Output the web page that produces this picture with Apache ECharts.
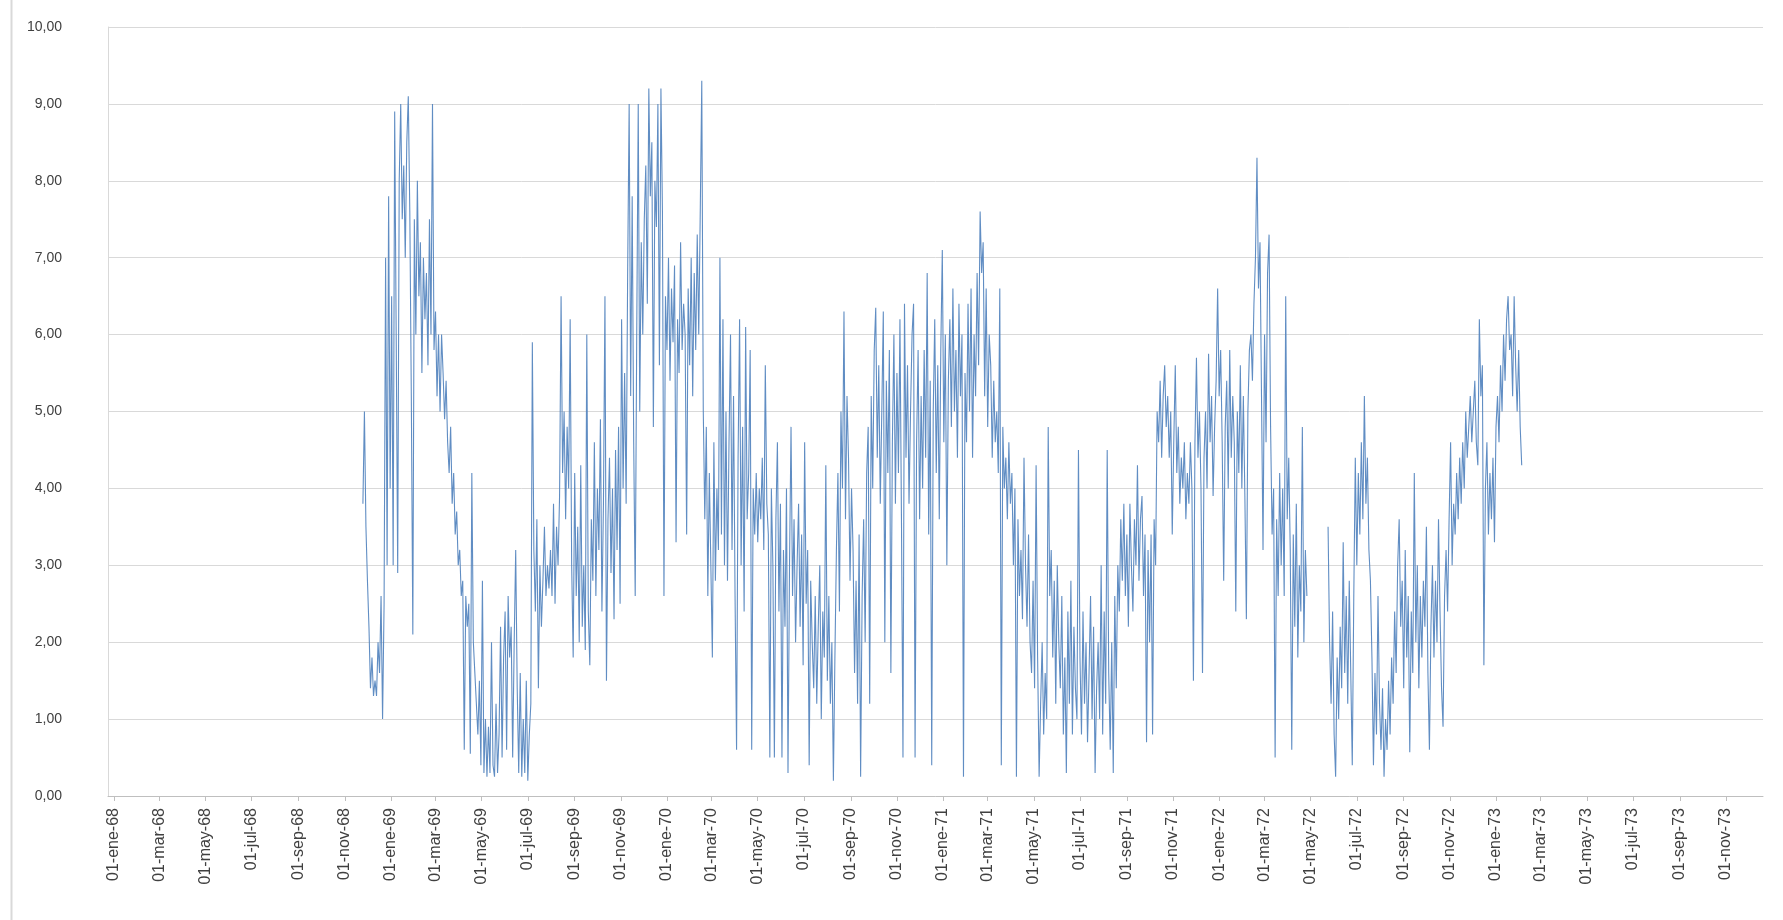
<!DOCTYPE html>
<html>
<head>
<meta charset="utf-8">
<script src="https://cdn.jsdelivr.net/npm/echarts@6/dist/echarts.min.js"></script>
<style>
html,body{margin:0;padding:0;background:#fff;}
#chart{width:1783px;height:920px;}
</style>
</head>
<body>
<div id="chart"></div>
<script>
// Axis range (daily categories) and tick labels: 1st day of Jan/Mar/May/Jul/Sep/Nov
const axisStartISO = '1967-12-24';
const axisEndISO = '1973-12-20';
const monthNames = ['ene','feb','mar','abr','may','jun','jul','ago','sep','oct','nov','dic'];
const labelMonths = [0,2,4,6,8,10];
const yTicks = [0,1,2,3,4,5,6,7,8,9,10];

// Series values, one reading every 2 days, each segment with its own start date
const startA = '1968-11-25';
const valsA = [
3.8,5.0,3.5,2.8,2.2,1.4,1.8,1.3,1.5,1.3,
2.0,1.6,2.6,1.0,2.5,7.0,3.0,7.8,4.0,6.5,
3.0,8.9,6.0,2.9,8.0,9.0,7.5,8.2,7.0,8.5,
9.1,7.6,5.2,2.1,7.5,6.0,8.0,6.5,7.2,5.5,
7.0,6.2,6.8,5.6,7.5,6.0,9.0,5.8,6.3,5.2,
6.0,5.0,6.0,5.5,4.9,5.4,4.6,4.2,4.8,3.8,
4.2,3.4,3.7,3.0,3.2,2.6,2.8,0.6,2.6,2.2,
2.5,0.55,4.2,2.0,1.6,1.2,0.8,1.5,0.4,2.8,
0.3,1.0,0.25,0.9,0.3,2.0,0.4,0.25,1.2,0.3,
0.8,2.2,0.5,1.8,2.4,0.6,2.6,1.8,2.2,0.5,
2.0,3.2,1.4,0.3,1.6,0.25,1.0,0.3,1.5,0.2,
0.8,1.2,5.9,3.2,2.4,3.6,1.4,3.0,2.2,2.8,
3.5,2.6,3.0,2.7
];
const startB = '1969-07-31';
const valsB = [
3.2,2.6,3.8,2.5,3.5,3.0,3.9,6.5,4.2,5.0,
3.6,4.8,4.0,6.2,3.0,1.8,4.2,2.6,3.5,2.0,
4.3,2.2,3.0,1.9,6.0,2.4,1.7,3.6,2.8,4.6,
2.6,4.0,3.2,4.9,2.4,3.8,6.5,1.5,3.6,4.4,
2.9,4.0,2.3,4.5,3.2,4.8,2.5,6.2,4.0,5.5,
3.8,6.8,9.0,5.2,7.8,4.6,2.6,6.0,9.0,5.0,
7.2,6.0,7.5,8.2,6.4,9.2,7.8,8.5,4.8,8.0,
7.4,9.0,5.6,9.2,7.6,2.6,6.5,5.8,7.0,5.4,
6.6,5.9,6.9,3.3,6.2,5.5,7.2,5.8,6.4,6.0,
3.4,6.6,5.6,7.0,5.2,6.8,5.8,7.3,6.0,7.6,
9.3,5.0,3.6,4.8,2.6,4.2,3.0,1.8,4.6,2.8,
4.0,3.2,7.0,3.4,6.2,3.0,5.0,2.8,4.6,6.0,
3.2,5.2,2.6,0.6,4.4,6.2,3.0,4.8,2.4,6.1,
3.6,4.2
];
const startC = '1970-04-21';
const valsC = [
5.8,0.6,4.0,3.4,4.2,3.3,4.0,3.6,4.4,3.2,
5.6,3.8,3.4,0.5,4.0,3.0,0.5,3.6,4.6,2.4,
3.8,0.5,3.2,2.2,4.0,0.3,3.0,4.8,2.6,3.6,
2.0,3.0,3.8,2.2,3.4,1.7,4.6,2.5,3.2,0.4,
2.8,2.0,1.4,2.6,1.2,2.2,3.0,1.0,2.4,1.8,
4.3,1.5,2.6,1.2,2.0,0.2,1.8,3.2,4.2,2.4,
5.0,4.0,6.3,3.6,5.2,4.4,2.8,4.0,3.2,1.6,
2.8,1.2,3.4,0.25,2.6,3.6,2.0,4.2,4.8,1.2,
5.2,4.0,5.8,6.35,4.4,5.6,3.8,5.0,6.3,2.0,
5.4,4.2,5.8,1.6,4.6,6.0,3.8,5.5,4.2,6.2,
3.6,0.5,6.4,4.4,5.6,3.8,5.0,6.0,6.4,0.5,
4.6,5.8,3.6,5.2,4.0,5.8,4.4,6.8,3.4,5.4,
0.4,5.0,6.2,4.2,5.6,3.6,5.8,7.1,4.6,6.0,
3.0,5.4
];
const startD = '1971-01-10';
const valsD = [
6.2,4.8,6.6,5.0,5.8,4.4,6.4,5.2,6.0,0.25,
5.5,4.6,6.4,5.0,6.6,4.4,6.0,5.2,6.8,5.6,
7.6,6.8,7.2,5.2,6.6,4.8,6.0,5.6,4.4,5.4,
4.6,5.0,4.2,6.6,0.4,4.8,4.0,4.4,3.6,4.6,
3.8,4.2,3.0,4.0,0.25,3.6,2.6,3.2,2.3,4.4,
3.0,2.2,3.4,2.0,1.6,2.8,1.4,4.3,1.8,0.25,
1.2,2.0,0.8,1.6,1.0,4.8,2.6,3.2,1.8,2.8,
1.2,3.0,2.0,1.4,2.6,0.8,1.8,0.3,2.4,1.2,
2.8,0.8,2.2,1.4,1.0,4.5,1.8,0.8,2.4,1.2,
2.0,0.7,1.6,2.6,1.0,2.2,0.3,1.4,2.0,1.0,
3.0,0.8,2.4,1.2,4.5,1.6,0.6,2.0,0.3,2.6,
1.4,3.0,2.4,3.6,2.8,3.8,2.6,3.4,2.2,3.8,
3.0,2.4,3.6,3.0,4.3,2.8,3.6,3.9,2.6,3.4,
0.7,3.2
];
const startE = '1971-10-01';
const valsE = [
2.0,3.4,0.8,3.6,3.0,5.0,4.6,5.4,4.4,5.2,
5.6,4.8,5.2,4.4,5.0,3.4,4.6,5.6,4.2,4.8,
3.8,4.4,4.0,4.6,3.6,4.2,3.8,4.6,4.0,1.5,
4.6,5.7,4.4,5.0,4.0,1.6,4.4,5.0,4.0,5.75,
4.6,5.2,3.9,4.8,5.4,6.6,5.2,5.8,4.6,2.8,
4.8,5.4,4.0,5.8,4.4,5.2,4.6,2.4,5.0,4.2,
5.6,4.0,5.2,3.9,2.3,5.0,5.8,6.0,5.4,6.4,
7.0,8.3,6.6,7.2,5.2,3.2,6.0,4.6,6.8,7.3,
4.8,3.4,4.0,0.5,3.6,2.6,4.2,3.0,4.0,2.6,
6.5,3.6,4.4,3.2,0.6,3.4,2.2,3.8,1.8,3.0,
2.4,4.8,2.0,3.2,2.6,null,null,null,null,null,
null,null,null,null,null,null,null,null,3.5,2.0,
1.2,2.4,0.8,0.25,1.8,1.0,2.2,1.4,3.3,1.6,
2.6,1.2,2.8
];
const startF = '1972-06-23';
const valsF = [
1.6,0.4,2.6,4.4,3.0,4.2,3.4,4.6,3.6,5.2,
3.8,4.4,3.2,2.8,1.8,0.4,1.6,0.8,2.6,1.2,
0.6,1.4,0.25,1.0,0.6,1.5,0.8,1.8,1.2,2.4,
1.6,3.0,3.6,2.2,2.8,1.4,3.2,1.8,2.6,0.57,
2.4,1.6,4.2,2.0,3.0,1.4,2.6,1.8,2.8,2.2,
3.5,1.6,0.6,2.2,3.0,1.8,2.8,2.0,3.6,2.4,
1.4,0.9,2.6,3.2,2.4,3.6,4.6,3.0,3.8,3.4,
4.2,3.6,4.4,3.8,4.6,4.0,5.0,4.4,4.8,5.2,
4.6,5.0,5.4,4.6,4.3,6.2,5.2,5.6,1.7,4.0,
4.6,3.4,4.2,3.6,4.4,3.3,4.8,5.2,4.6,5.6,
5.0,6.0,5.4,6.2,6.5,5.8,6.0,5.2,6.5,5.6,
5.0,5.8,4.8,4.3
];

const DAY = 86400000;
function utc(iso){ return Date.parse(iso + 'T00:00:00Z'); }
const t0 = utc(axisStartISO), t1 = utc(axisEndISO);
const categories = [];
for (let t = t0; t <= t1; t += DAY) {
  categories.push(new Date(t).toISOString().slice(0,10));
}
function seg(startISO, vals){
  const s = utc(startISO);
  return vals.map((v,i)=>[Math.round((s + 2*i*DAY - t0)/DAY), v === null ? '-' : v]);
}
const seriesData = [].concat(
  seg(startA, valsA), seg(startB, valsB), seg(startC, valsC),
  seg(startD, valsD), seg(startE, valsE), seg(startF, valsF)
);
function isLabelDay(val){
  const m = +val.slice(5,7) - 1, d = +val.slice(8,10);
  return d === 1 && labelMonths.indexOf(m) >= 0;
}
function fmtDate(val){
  return val.slice(8,10) + '-' + monthNames[+val.slice(5,7)-1] + '-' + val.slice(2,4);
}

const chart = echarts.init(document.getElementById('chart'), null, {renderer:'canvas'});
chart.setOption({
  animation:false,
  backgroundColor:'#ffffff',
  graphic:[{type:'line', shape:{x1:11.5,y1:0,x2:11.5,y2:920}, style:{stroke:'#d9d9d9', lineWidth:2}}],
  grid:{left:108, right:20, top:27, bottom:124, containLabel:false},
  xAxis:{
    type:'category',
    data:categories,
    boundaryGap:false,
    axisLine:{lineStyle:{color:'#bfbfbf', width:1}},
    axisTick:{show:true, interval:(i,v)=>isLabelDay(v), length:5, lineStyle:{color:'#bfbfbf'}},
    axisLabel:{interval:(i,v)=>isLabelDay(v), rotate:90, margin:12, color:'#404040',
      fontFamily:'Liberation Sans, Arial, sans-serif', fontSize:16, formatter:v=>fmtDate(v)},
    splitLine:{show:false}
  },
  yAxis:{
    type:'value', min:yTicks[0], max:yTicks[yTicks.length-1], interval:1,
    axisLine:{show:true, lineStyle:{color:'#d9d9d9'}},
    axisTick:{show:false},
    axisLabel:{color:'#404040', fontFamily:'Liberation Sans, Arial, sans-serif', fontSize:14, margin:46,
      formatter:v=>v.toFixed(2).replace('.', ',')},
    splitLine:{lineStyle:{color:'#d9d9d9', width:1}}
  },
  series:[{
    type:'line', data:seriesData, showSymbol:false, symbol:'none',
    connectNulls:false, sampling:null,
    lineStyle:{color:'#4f81bd', width:1.1, opacity:0.9}
  }]
});
</script>
</body>
</html>
